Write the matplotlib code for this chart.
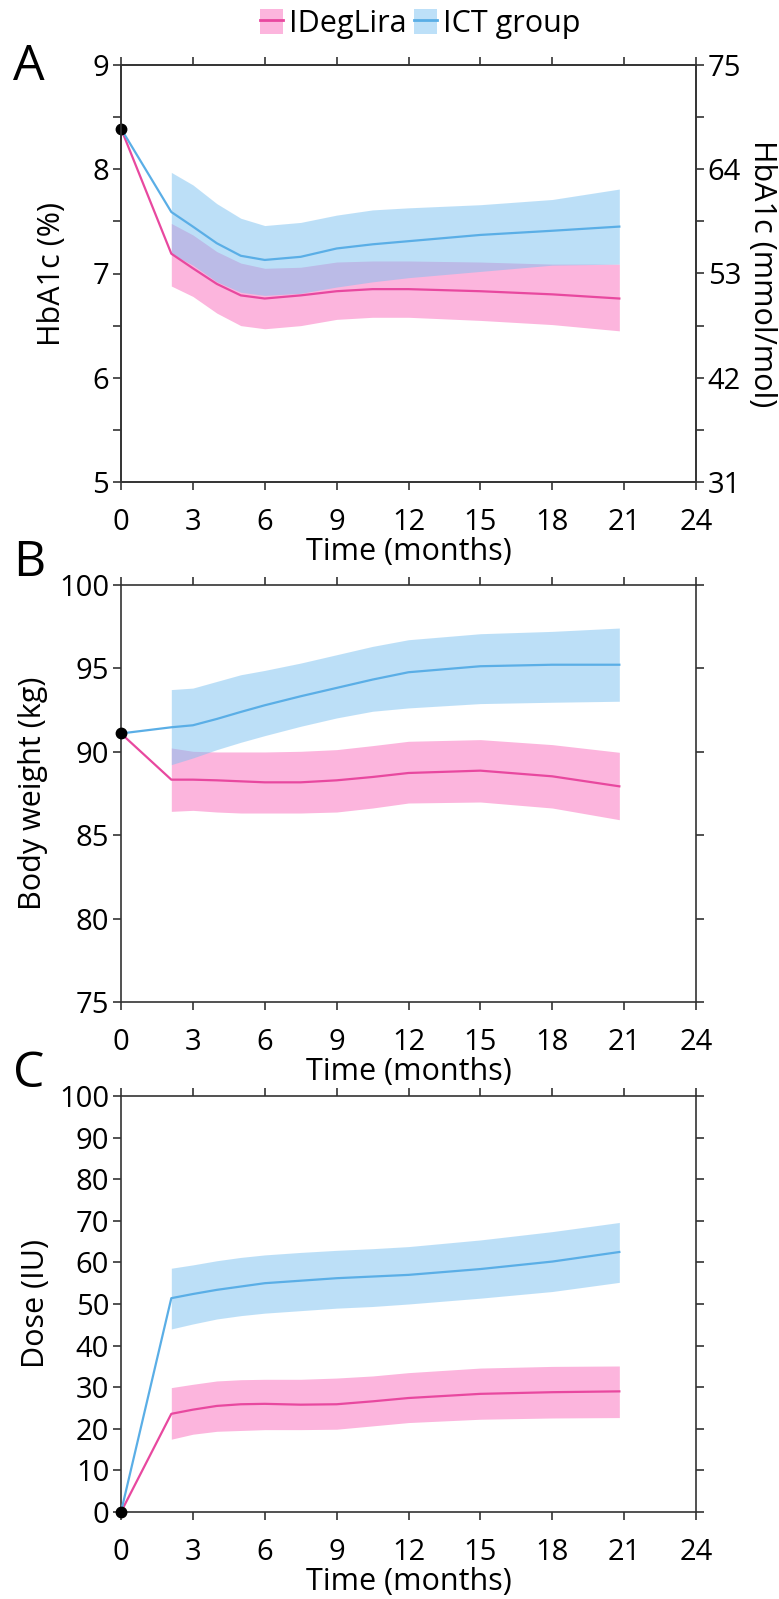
import matplotlib
matplotlib.use("Agg")
import matplotlib.pyplot as plt
from matplotlib.patches import Patch
from matplotlib.lines import Line2D

plt.rcParams['font.family'] = ['Open Sans', 'DejaVu Sans']

# time points of the smoothed curves (months)
months = [2.1, 3, 4, 5, 6, 7.5, 9, 10.5, 12, 15, 18, 20.8]

# A: HbA1c (%)
hba1c_base = 8.39
hba1c_ideg = [7.19, 7.05, 6.90, 6.79, 6.76, 6.79, 6.83, 6.85, 6.85, 6.83, 6.80, 6.76]
hba1c_ideg_hi = [7.48, 7.37, 7.21, 7.10, 7.05, 7.06, 7.11, 7.12, 7.12, 7.11, 7.09, 7.09]
hba1c_ideg_lo = [6.88, 6.78, 6.62, 6.50, 6.47, 6.50, 6.56, 6.58, 6.58, 6.55, 6.51, 6.45]
hba1c_ict = [7.59, 7.45, 7.29, 7.17, 7.13, 7.16, 7.24, 7.28, 7.31, 7.37, 7.41, 7.45]
hba1c_ict_hi = [7.97, 7.85, 7.67, 7.53, 7.46, 7.49, 7.56, 7.61, 7.63, 7.66, 7.71, 7.81]
hba1c_ict_lo = [7.19, 7.08, 6.92, 6.82, 6.79, 6.81, 6.87, 6.92, 6.96, 7.02, 7.08, 7.09]

# B: body weight (kg)
weight_base = 91.1
weight_ideg = [88.33, 88.33, 88.29, 88.23, 88.17, 88.17, 88.29, 88.49, 88.73, 88.87, 88.53, 87.93]
weight_ideg_hi = [90.23, 90.03, 89.99, 89.99, 89.99, 90.03, 90.13, 90.37, 90.63, 90.73, 90.43, 89.97]
weight_ideg_lo = [86.43, 86.49, 86.39, 86.33, 86.33, 86.33, 86.39, 86.63, 86.93, 86.99, 86.63, 85.93]
weight_ict = [91.47, 91.59, 91.97, 92.39, 92.79, 93.33, 93.83, 94.33, 94.77, 95.13, 95.22, 95.22]
weight_ict_hi = [93.73, 93.82, 94.22, 94.62, 94.88, 95.32, 95.82, 96.32, 96.72, 97.08, 97.22, 97.42]
weight_ict_lo = [89.23, 89.63, 90.13, 90.57, 90.97, 91.53, 92.03, 92.43, 92.63, 92.89, 92.97, 93.03]

# C: insulin dose (IU)
dose_base = 0
dose_ideg = [23.6, 24.6, 25.5, 25.9, 26.0, 25.8, 25.9, 26.6, 27.4, 28.4, 28.8, 29.0]
dose_ideg_hi = [29.9, 30.7, 31.5, 31.8, 31.9, 31.9, 32.2, 32.7, 33.5, 34.6, 35.0, 35.1]
dose_ideg_lo = [17.5, 18.7, 19.4, 19.6, 19.8, 19.8, 19.9, 20.7, 21.5, 22.3, 22.6, 22.7]
dose_ict = [51.4, 52.4, 53.4, 54.2, 55.0, 55.6, 56.2, 56.6, 57.0, 58.4, 60.2, 62.5]
dose_ict_hi = [58.6, 59.4, 60.4, 61.2, 61.8, 62.4, 62.9, 63.3, 63.8, 65.4, 67.4, 69.6]
dose_ict_lo = [44.0, 45.2, 46.4, 47.2, 47.8, 48.4, 49.0, 49.4, 50.0, 51.4, 53.0, 55.2]

x_ticks = [0, 3, 6, 9, 12, 15, 18, 21, 24]

PINK = '#e8489f'
PINK_FILL = '#fcb5dd'
BLUE = '#5aaee6'
BLUE_FILL = '#7bc1f1'
SPINE = '#333333'
TICK_FS = 21
LABEL_FS = 22


def style_axis(ax):
    for s in ax.spines.values():
        s.set_color(SPINE)
        s.set_linewidth(1.2)
    ax.tick_params(which='both', direction='out', color=SPINE, width=1.2, length=5.5,
                   labelsize=TICK_FS, top=True, right=True, labelright=False)
    ax.tick_params(axis='x', pad=13)
    ax.tick_params(axis='y', pad=3)
    ax.set_xlim(0, 24)
    ax.set_xticks(x_ticks)
    ax.set_xlabel('Time (months)', fontsize=LABEL_FS, labelpad=0)


def draw_panel(ax, base, ideg, ideg_lo, ideg_hi, ict, ict_lo, ict_hi):
    ax.fill_between(months, ideg_lo, ideg_hi, color=PINK_FILL, lw=0, zorder=1)
    ax.fill_between(months, ict_lo, ict_hi, color=BLUE_FILL, alpha=0.5, lw=0, zorder=2)
    ax.plot([0] + months, [base] + ideg, color=PINK, lw=1.6, zorder=3, clip_on=False)
    ax.plot([0] + months, [base] + ict, color=BLUE, lw=1.6, zorder=3, clip_on=False)
    ax.plot([0], [base], 'o', color='black', ms=7.5, zorder=5, clip_on=False)


fig = plt.figure(figsize=(7.79, 15.99), dpi=100)
left, width = 121 / 779, 575 / 779
axA = fig.add_axes([left, 1 - 482 / 1599, width, 417 / 1599])
axB = fig.add_axes([left, 1 - 1002 / 1599, width, 417 / 1599])
axC = fig.add_axes([left, 1 - 1512 / 1599, width, 416 / 1599])

# A
draw_panel(axA, hba1c_base, hba1c_ideg, hba1c_ideg_lo, hba1c_ideg_hi,
           hba1c_ict, hba1c_ict_lo, hba1c_ict_hi)
style_axis(axA)
axA.set_ylim(5, 9)
axA.set_yticks([5, 6, 7, 8, 9])
axA.set_yticks([5.5, 6.5, 7.5, 8.5], minor=True)
axA.tick_params(axis='y', which='both', right=False)
axA.set_ylabel('HbA1c (%)', fontsize=LABEL_FS, labelpad=18)
axA2 = axA.twinx()
axA2.set_ylim(31, 75)
axA2.set_yticks([31, 42, 53, 64, 75])
axA2.set_yticks([36.5, 47.5, 58.5, 69.5], minor=True)
axA2.tick_params(which='both', direction='out', color=SPINE, width=1.2, length=5.5,
                 labelsize=TICK_FS, pad=3)
for s in axA2.spines.values():
    s.set_color(SPINE)
    s.set_linewidth(1.2)
axA2.set_ylabel('HbA1c (mmol/mol)', fontsize=LABEL_FS, rotation=270, labelpad=26)

# B
draw_panel(axB, weight_base, weight_ideg, weight_ideg_lo, weight_ideg_hi,
           weight_ict, weight_ict_lo, weight_ict_hi)
style_axis(axB)
axB.set_ylim(75, 100)
axB.set_yticks([75, 80, 85, 90, 95, 100])
axB.set_ylabel('Body weight (kg)', fontsize=LABEL_FS, labelpad=8)

# C
draw_panel(axC, dose_base, dose_ideg, dose_ideg_lo, dose_ideg_hi,
           dose_ict, dose_ict_lo, dose_ict_hi)
style_axis(axC)
axC.set_ylim(0, 100)
axC.set_yticks(range(0, 101, 10))
axC.set_ylabel('Dose (IU)', fontsize=LABEL_FS, labelpad=6)

# panel letters
fig.text(29 / 779, 1 - 67 / 1599, 'A', fontsize=36, ha='center', va='center')
fig.text(29 / 779, 1 - 563 / 1599, 'B', fontsize=36, ha='center', va='center')
fig.text(29 / 779, 1 - 1074 / 1599, 'C', fontsize=36, ha='center', va='center')

# legend
handles = [(Patch(facecolor=PINK_FILL, lw=0), Line2D([], [], color=PINK, lw=2)),
           (Patch(facecolor='#bde0f8', lw=0), Line2D([], [], color=BLUE, lw=2))]
fig.legend(handles, ['IDegLira', 'ICT group'], loc='center', ncol=2,
           bbox_to_anchor=(420 / 779, 1 - 24 / 1599), frameon=False, fontsize=LABEL_FS,
           handlelength=0.75, handleheight=0.9, handletextpad=0.2, columnspacing=0.25,
           borderpad=0, borderaxespad=0)

fig.savefig('out.png', dpi=100)
